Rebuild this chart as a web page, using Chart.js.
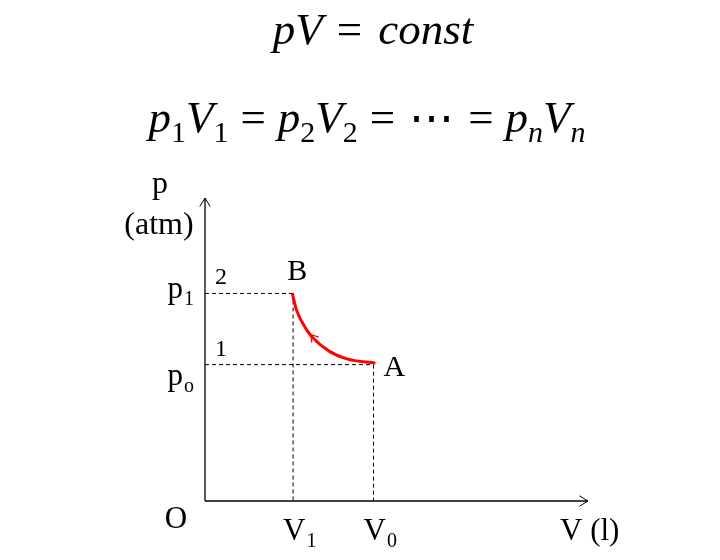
<!DOCTYPE html>
<html>
<head>
<meta charset="utf-8">
<script src="https://cdn.jsdelivr.net/npm/chart.js@4"></script>
<style>
  html, body { margin: 0; padding: 0; background: #fff; }
  canvas { display: block; }
</style>
</head>
<body>
<canvas id="chart" width="720" height="560"></canvas>
<script>
// isothermal compression A -> B
const curveV = [2.28, 2.39, 2.66, 2.82, 3.26, 3.70, 4.45];
const curveP = [6.85, 6.30, 5.64, 5.38, 4.93, 4.69, 4.55];

// tick positions on the axes
const volumeTicks = [2.3, 4.4];     // V1, V0
const volumeSubs = ["1", "0"];
const pressureTicks = [6.85, 4.5];  // p1, po
const pressureSubs = ["1", "o"];
const stateNames = ["2", "1"];
const pointNames = ["B", "A"];

const axisMax = [10, 10];   // V max, p max

const FONT = "'Liberation Serif', 'DejaVu Serif', serif";

function dashed(points) {
    return {
        data: points,
        borderColor: "#000",
        borderWidth: 1,
        borderDash: [4, 3],
        pointRadius: 0,
        clip: false
    };
}

const datasets = [
    {
        data: curveV.map((v, i) => ({ x: v, y: curveP[i] })),
        borderColor: "#ff0000",
        borderWidth: 3,
        cubicInterpolationMode: "monotone",
        pointRadius: 0,
        clip: false
    }
];
volumeTicks.forEach((v, i) => {
    datasets.push(dashed([{ x: 0, y: pressureTicks[i] }, { x: v, y: pressureTicks[i] }]));
    datasets.push(dashed([{ x: v, y: pressureTicks[i] }, { x: v, y: 0 }]));
});
// axes
datasets.push({ data: [{ x: 0, y: 0 }, { x: axisMax[0], y: 0 }], borderColor: "#000", borderWidth: 1.3, pointRadius: 0, clip: false });
datasets.push({ data: [{ x: 0, y: 0 }, { x: 0, y: axisMax[1] }], borderColor: "#000", borderWidth: 1.3, pointRadius: 0, clip: false });

// draw a run of pieces: {t, sub, italic, gap}
function drawRich(ctx, parts, cx, baseline, size, subSize, subDrop) {
    const fontOf = p => (p.italic ? "italic " : "") + (p.sub ? subSize : size) + "px " + FONT;
    let total = 0;
    parts.forEach(p => {
        ctx.font = fontOf(p);
        p.w = ctx.measureText(p.t).width;
        total += (p.gap || 0) + p.w;
    });
    let x = cx - total / 2;
    ctx.textAlign = "left";
    ctx.textBaseline = "alphabetic";
    parts.forEach(p => {
        x += p.gap || 0;
        ctx.font = fontOf(p);
        ctx.fillText(p.t, x, baseline + (p.sub ? subDrop : 0));
        x += p.w;
    });
}

function drawSubLabel(ctx, main, sub, x, baseline, align) {
    ctx.font = "31px " + FONT;
    const w1 = ctx.measureText(main).width;
    ctx.font = "20px " + FONT;
    const w2 = ctx.measureText(sub).width;
    let left = x;
    if (align === "right") left = x - w1 - w2 - 1;
    ctx.textAlign = "left";
    ctx.textBaseline = "alphabetic";
    ctx.font = "31px " + FONT;
    ctx.fillText(main, left, baseline);
    ctx.font = "20px " + FONT;
    ctx.fillText(sub, left + w1 + 1, baseline + 7);
}

function chevron(ctx, x, y, angle, len, spread) {
    ctx.beginPath();
    ctx.moveTo(x - len * Math.cos(angle - spread), y - len * Math.sin(angle - spread));
    ctx.lineTo(x, y);
    ctx.lineTo(x - len * Math.cos(angle + spread), y - len * Math.sin(angle + spread));
    ctx.stroke();
}

const annotations = {
    id: "annotations",
    afterDraw(chart) {
        const ctx = chart.ctx;
        const xs = chart.scales.x, ys = chart.scales.y;
        const ox = xs.getPixelForValue(0), oy = ys.getPixelForValue(0);
        const xEnd = xs.getPixelForValue(axisMax[0]), yEnd = ys.getPixelForValue(axisMax[1]);
        ctx.save();
        ctx.fillStyle = "#000";
        ctx.strokeStyle = "#000";
        ctx.lineWidth = 1;

        // axis arrows
        chevron(ctx, xEnd, oy, 0, 10, 0.55);
        chevron(ctx, ox, yEnd, -Math.PI / 2, 10, 0.55);

        // arrow along the curve (pointing towards B)
        const pts = chart.getDatasetMeta(0).data;
        const a = pts[3], b = pts[2];
        const ang = Math.atan2(b.y - a.y, b.x - a.x);
        ctx.strokeStyle = "#ff0000";
        ctx.lineWidth = 1.3;
        chevron(ctx, a.x + 3 * Math.cos(ang), a.y + 3 * Math.sin(ang) - 1, ang, 8, 0.6);

        // formulas
        ctx.fillStyle = "#000";
        drawRich(ctx, [
            { t: "pV", italic: true },
            { t: "=", gap: 14 },
            { t: "const", italic: true, gap: 16 }
        ], 373, 44, 45, 30, 10);
        drawRich(ctx, [
            { t: "p", italic: true }, { t: "1", sub: true },
            { t: "V", italic: true }, { t: "1", sub: true },
            { t: "=", gap: 12 },
            { t: "p", italic: true, gap: 12 }, { t: "2", sub: true },
            { t: "V", italic: true }, { t: "2", sub: true },
            { t: "=", gap: 12 },
            { t: "\u22EF", gap: 14 },
            { t: "=", gap: 14 },
            { t: "p", italic: true, gap: 12 }, { t: "n", sub: true, italic: true },
            { t: "V", italic: true }, { t: "n", sub: true, italic: true }
        ], 367, 132, 45, 30, 10);

        // axis titles
        ctx.font = "32px " + FONT;
        ctx.textAlign = "center";
        ctx.fillText("p", ox - 45, yEnd - 5);
        ctx.fillText("(atm)", ox - 46, yEnd + 36);
        ctx.font = "31px " + FONT;
        ctx.textAlign = "left";
        ctx.fillText("V (l)", xEnd - 28, oy + 39);
        ctx.textAlign = "center";
        ctx.fillText("O", ox - 29, oy + 27);

        // ticks
        volumeTicks.forEach((v, i) => {
            drawSubLabel(ctx, "V", volumeSubs[i], xs.getPixelForValue(v) - 10, oy + 39, "left");
        });
        pressureTicks.forEach((p, i) => {
            const y = ys.getPixelForValue(p);
            drawSubLabel(ctx, "p", pressureSubs[i], ox - 11, y + (i === 0 ? 5 : 20), "right");
        });

        // state numbers and point names
        ctx.font = "24px " + FONT;
        ctx.textAlign = "left";
        pressureTicks.forEach((p, i) => {
            ctx.fillText(stateNames[i], ox + 10, ys.getPixelForValue(p) - 9);
        });
        ctx.font = "30px " + FONT;
        const first = pts[0], last = pts[pts.length - 1];
        ctx.textAlign = "center";
        ctx.fillText(pointNames[0], first.x + 5, first.y - 13);
        ctx.textAlign = "left";
        ctx.fillText(pointNames[1], last.x + 8, last.y + 13);
        ctx.restore();
    }
};

new Chart(document.getElementById("chart"), {
    type: "line",
    data: { datasets },
    options: {
        responsive: false,
        animation: false,
        layout: { padding: { left: 205, right: 132, top: 198, bottom: 59 } },
        scales: {
            x: { type: "linear", min: 0, max: axisMax[0], display: false },
            y: { type: "linear", min: 0, max: axisMax[1], display: false }
        },
        plugins: { legend: { display: false }, tooltip: { enabled: false } }
    },
    plugins: [annotations]
});
</script>
</body>
</html>
